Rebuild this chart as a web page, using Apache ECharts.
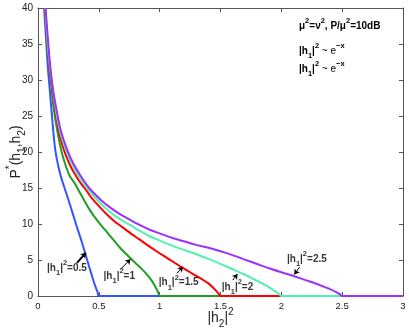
<!DOCTYPE html>
<html>
<head>
<meta charset="utf-8">
<script src="https://cdn.jsdelivr.net/npm/echarts@6/dist/echarts.min.js"></script>
<style>
  html, body { margin: 0; padding: 0; background: #fff; }
  #chart { width: 409px; height: 330px; }
</style>
</head>
<body>
<div id="chart"></div>
<script>
// |h1|^2 values, one curve each
const h1Values = ['0.5', '1', '1.5', '2', '2.5']
const colors = ['#3355ff', '#1f9e1f', '#ff0000', '#55f0b0', '#9b30ff']

// points: [|h2|^2, P*]
const curve05 = [[0.05, 40], [0.065, 36], [0.08, 32], [0.095, 29], [0.11, 26], [0.125, 23], [0.142, 20.3],
  [0.165, 18.2], [0.19, 16.5], [0.232, 14.3], [0.27, 12.3], [0.314, 9.9], [0.36, 7.5], [0.404, 5], [0.44, 3],
  [0.47, 1.4], [0.49, 0.5], [0.5, 0], [3, 0]]
const curve1 = [[0.055, 40], [0.075, 35], [0.1, 30.5], [0.13, 26], [0.16, 22.8], [0.19, 20.3], [0.22, 18.5],
  [0.26, 16.7], [0.3, 15.7], [0.333, 14.7], [0.369, 13.6], [0.42, 12.1], [0.46, 11.1], [0.506, 10.1], [0.56, 9.0],
  [0.62, 7.8], [0.68, 6.6], [0.74, 5.6], [0.8, 4.6], [0.85, 3.8], [0.9, 2.9], [0.94, 2.0], [0.97, 1.1],
  [0.99, 0.4], [1, 0], [3, 0]]
const curve15 = [[0.057, 40], [0.08, 34.5], [0.1, 31], [0.14, 26], [0.175, 22.6], [0.213, 20.3], [0.26, 18.3],
  [0.3, 17], [0.35, 15.7], [0.396, 14.7], [0.437, 13.7], [0.5, 12.5], [0.55, 11.6], [0.62, 10.5], [0.69, 9.6],
  [0.754, 8.8], [0.83, 7.9], [0.918, 6.85], [0.98, 6.15], [1.05, 5.4], [1.12, 4.65], [1.19, 3.9], [1.25, 3.3],
  [1.3, 2.8], [1.35, 2.3], [1.4, 1.75], [1.44, 1.15], [1.47, 0.6], [1.49, 0.2], [1.5, 0], [3, 0]]
const curve2 = [[0.06, 40], [0.08, 35], [0.1, 31.5], [0.145, 26], [0.185, 22.6], [0.23, 20.3], [0.28, 18.3],
  [0.33, 16.8], [0.4, 15], [0.478, 13.5], [0.55, 12.3], [0.62, 11.3], [0.69, 10.5], [0.754, 9.9], [0.83, 9.1],
  [0.918, 8.3], [1.0, 7.7], [1.1, 7.0], [1.2, 6.4], [1.3, 5.8], [1.4, 5.15], [1.465, 4.7], [1.55, 4.1],
  [1.63, 3.5], [1.7, 2.95], [1.76, 2.45], [1.82, 1.95], [1.87, 1.5], [1.91, 1.1], [1.95, 0.65], [1.98, 0.25],
  [2, 0], [3, 0]]
const curve25 = [[0.062, 40], [0.08, 36], [0.1, 32], [0.125, 28.5], [0.153, 25.8], [0.19, 22.8], [0.24, 20.3],
  [0.29, 18.4], [0.35, 16.7], [0.42, 15], [0.519, 13.3], [0.6, 12.2], [0.68, 11.3], [0.754, 10.6], [0.83, 9.9],
  [0.918, 9.2], [1.0, 8.7], [1.1, 8.1], [1.2, 7.6], [1.3, 7.1], [1.4, 6.7], [1.465, 6.4], [1.55, 5.95],
  [1.63, 5.5], [1.7, 5.05], [1.8, 4.45], [1.9, 3.85], [2.0, 3.3], [2.107, 2.75], [2.2, 2.2], [2.27, 1.8],
  [2.34, 1.35], [2.4, 0.95], [2.45, 0.55], [2.48, 0.25], [2.5, 0], [3, 0]]
const curves = [curve05, curve1, curve15, curve2, curve25]

// annotation label centres and arrows (data units)
const labelPos = [[0.238, 3.9], [0.668, 2.8], [1.156, 1.85], [1.64, 1.2], [2.21, 5.1]]
const arrowTail = [[0.32, 4.6], [0.678, 3.7], [1.142, 3.15], [1.6, 2.2], [2.15, 4.0]]
const arrowHead = [[0.393, 6.0], [0.76, 5.1], [1.19, 4.07], [1.64, 3.05], [2.107, 3.0]]

const font = 'Liberation Sans, Arial, sans-serif'
const labelRich = {
  n: { fontSize: 10, fontWeight: 'bold', fontFamily: font, color: '#000', lineHeight: 18 },
  sup: { fontSize: 7.5, fontWeight: 'bold', fontFamily: font, color: '#000', verticalAlign: 'top', lineHeight: 9 },
  sub: { fontSize: 7.5, fontWeight: 'bold', fontFamily: font, color: '#000', verticalAlign: 'bottom', lineHeight: 9 }
}
const nameRich = {
  n: { fontSize: 14, fontFamily: font, color: '#222', lineHeight: 22 },
  sup: { fontSize: 10, fontFamily: font, color: '#222', verticalAlign: 'top', lineHeight: 11 },
  sub: { fontSize: 10, fontFamily: font, color: '#222', verticalAlign: 'bottom', lineHeight: 11 }
}
const noteRich = {
  b: { fontSize: 10, fontWeight: 'bold', fontFamily: font, fill: '#000', lineHeight: 18 },
  r: { fontSize: 10, fontFamily: font, fill: '#000', lineHeight: 18 },
  s: { fontSize: 7.5, fontWeight: 'bold', fontFamily: font, fill: '#000', verticalAlign: 'top', lineHeight: 9 },
  d: { fontSize: 7.5, fontWeight: 'bold', fontFamily: font, fill: '#000', verticalAlign: 'bottom', lineHeight: 9 }
}

const chart = echarts.init(document.getElementById('chart'))

const series = curves.map((data, i) => ({
  type: 'line',
  name: h1Values[i],
  data,
  showSymbol: false,
  smooth: 0.3,
  lineStyle: { color: colors[i], width: 2 },
  itemStyle: { color: colors[i] },
  animation: false,
  z: 3
}))

series.push({
  type: 'scatter',
  symbolSize: 0,
  data: labelPos.map((p, i) => ({ value: p, name: h1Values[i] })),
  label: {
    show: true,
    position: 'inside',
    formatter: (p) => `{n||h}{sub|1}{n||}{sup|2}{n|=${p.name}}`,
    rich: labelRich
  },
  silent: true,
  animation: false,
  z: 5
})

series.push({
  type: 'lines',
  coordinateSystem: 'cartesian2d',
  symbol: ['none', 'arrow'],
  symbolSize: 5,
  data: arrowTail.map((t, i) => ({
    coords: [t, arrowHead[i]],
    lineStyle: { width: i === 0 ? 2 : 1 }
  })),
  lineStyle: { color: '#000', width: 1, opacity: 1 },
  silent: true,
  animation: false,
  z: 5
})

const axisLine = { show: true, onZero: false, lineStyle: { color: '#555', width: 1 } }
const axisTick = { inside: true, length: 4, lineStyle: { color: '#555' } }

chart.setOption({
  backgroundColor: '#fff',
  animation: false,
  grid: { left: 38, right: 6, top: 8, bottom: 34, containLabel: false, outerBoundsMode: 'none' },
  xAxis: [{
    type: 'value',
    min: 0,
    max: 3,
    interval: 0.5,
    axisLine,
    axisTick,
    axisLabel: { fontSize: 9.5, color: '#222', fontFamily: font, margin: 5 },
    splitLine: { show: false },
    name: '{n||h}{sub|2}{n||}{sup|2}',
    nameLocation: 'middle',
    nameGap: 11,
    nameMoveOverlap: false,
    nameTextStyle: { rich: nameRich }
  }, {
    type: 'value',
    position: 'top',
    min: 0,
    max: 3,
    interval: 0.5,
    axisLine,
    axisTick,
    axisLabel: { show: false },
    splitLine: { show: false }
  }],
  yAxis: [{
    type: 'value',
    min: 0,
    max: 40,
    interval: 5,
    axisLine,
    axisTick,
    axisLabel: { fontSize: 10, color: '#222', fontFamily: font, margin: 5 },
    splitLine: { show: false },
    name: '{n|P}{sup|*}{n|(h}{sub|1}{n|,h}{sub|2}{n|)}',
    nameLocation: 'middle',
    nameGap: 11,
    nameMoveOverlap: false,
    nameTextStyle: { rich: nameRich }
  }, {
    type: 'value',
    position: 'right',
    min: 0,
    max: 40,
    interval: 5,
    axisLine,
    axisTick,
    axisLabel: { show: false },
    splitLine: { show: false }
  }],
  graphic: [{
    type: 'text',
    left: 299,
    top: 17,
    style: {
      text: '{b|μ}{s|2}{b|=ν}{s|2}{b|, P/μ}{s|2}{b|=10dB}',
      rich: noteRich
    }
  }, {
    type: 'text',
    left: 299,
    top: 42,
    style: { text: '{b||h}{d|1}{b||}{s|2}{r| ~ e}{s|−x}', rich: noteRich }
  }, {
    type: 'text',
    left: 299,
    top: 60,
    style: { text: '{b||h}{d|1}{b||}{s|2}{r| ~ e}{s|−x}', rich: noteRich }
  }],
  series
})
</script>
</body>
</html>
